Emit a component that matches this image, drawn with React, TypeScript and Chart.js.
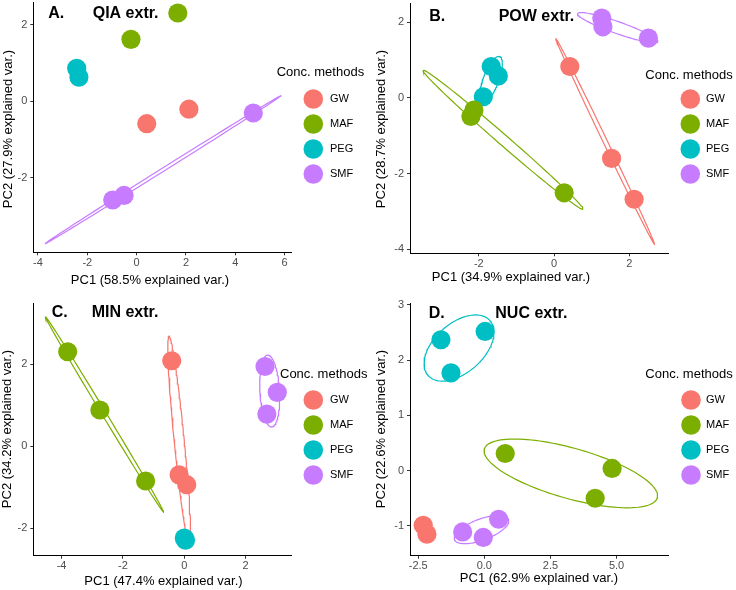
import React, { useEffect, useRef } from "react";
import { Chart, registerables } from "chart.js";

Chart.register(...registerables);

const FONT = "'Liberation Sans', Arial, Helvetica, sans-serif";
const W = 736;
const H = 590;

type Pt = [number, number];

// Legend categories and colours
const METHODS = ["GW", "MAF", "PEG", "SMF"];
const COLORS = ["#F8766D", "#7CAE00", "#00BFC4", "#C77CFF"];

// A. QIA extr. — [PC1, PC2]
const QIA_GW: Pt[] = [[0.41, -0.59], [2.12, -0.21]];
const QIA_MAF: Pt[] = [[1.67, 2.31], [-0.23, 1.62]];
const QIA_PEG: Pt[] = [[-2.43, 0.86], [-2.34, 0.63]];
const QIA_SMF: Pt[] = [[4.73, -0.31], [-0.97, -2.59], [-0.51, -2.47]];

// B. POW extr.
const POW_GW: Pt[] = [[0.42, 0.83], [1.53, -1.6], [2.13, -2.68]];
const POW_MAF: Pt[] = [[-2.13, -0.32], [-2.21, -0.49], [0.27, -2.51]];
const POW_PEG: Pt[] = [[-1.67, 0.83], [-1.48, 0.58], [-1.88, 0.03]];
const POW_SMF: Pt[] = [[1.27, 2.11], [1.3, 1.88], [2.51, 1.58]];

// C. MIN extr.
const MIN_GW: Pt[] = [[-0.41, 2.08], [-0.17, -0.7], [0.08, -0.94]];
const MIN_MAF: Pt[] = [[-3.8, 2.3], [-2.75, 0.88], [-1.26, -0.85]];
const MIN_PEG: Pt[] = [[0.0, -2.24], [0.04, -2.29]];
const MIN_SMF: Pt[] = [[2.63, 1.94], [3.03, 1.31], [2.69, 0.78]];

// D. NUC extr.
const NUC_GW: Pt[] = [[-2.31, -0.99], [-2.17, -1.15]];
const NUC_MAF: Pt[] = [[0.79, 0.31], [4.83, 0.04], [4.19, -0.5]];
const NUC_PEG: Pt[] = [[-1.64, 2.37], [0.03, 2.52], [-1.26, 1.77]];
const NUC_SMF: Pt[] = [[-0.82, -1.11], [-0.04, -1.21], [0.54, -0.88]];

// Axis ticks
const A_X_TICKS = [-4, -2, 0, 2, 4, 6];
const A_Y_TICKS = [-2, 0, 2];
const B_X_TICKS = [-2, 0, 2];
const B_Y_TICKS = [-4, -2, 0, 2];
const C_X_TICKS = [-4, -2, 0, 2];
const C_Y_TICKS = [-2, 0, 2];
const D_X_TICKS = [-2.5, 0, 2.5, 5];
const D_X_LABELS = ["-2.5", "0.0", "2.5", "5.0"];
const D_Y_TICKS = [-1, 0, 1, 2, 3];

const ELLIPSE_PROB = 0.68;

interface PanelCfg {
  letter: string;
  title: string;
  groups: Pt[][];
  xLabel: string;
  yLabel: string;
  xRange: [number, number];
  yRange: [number, number];
  xTicks: number[];
  xTickLabels?: string[];
  yTicks: number[];
  area: { l: number; t: number; r: number; b: number };
  letterPos: { x: number; y: number; tx: number };
  xLabelPos: { x: number; y: number };
  yLabelPos: { x: number; y: number };
  legendPos: { tx: number; ty: number; cx: number; y0: number; lx: number };
}

const PANELS: PanelCfg[] = [
  {
    letter: "A.",
    title: "QIA extr.",
    groups: [QIA_GW, QIA_MAF, QIA_PEG, QIA_SMF],
    xLabel: "PC1 (58.5% explained var.)",
    yLabel: "PC2 (27.9% explained var.)",
    xRange: [-4.19, 6.26],
    yRange: [-3.96, 2.58],
    xTicks: A_X_TICKS,
    yTicks: A_Y_TICKS,
    area: { l: 33.3, t: 2.7, r: 291, b: 252.3 },
    letterPos: { x: 48.3, y: 13.3, tx: 92.7 },
    xLabelPos: { x: 150, y: 280.5 },
    yLabelPos: { x: 8.5, y: 129 },
    legendPos: { tx: 276.7, ty: 72.5, cx: 313.3, y0: 99, lx: 330 },
  },
  {
    letter: "B.",
    title: "POW extr.",
    groups: [POW_GW, POW_MAF, POW_PEG, POW_SMF],
    xLabel: "PC1 (34.9% explained var.)",
    yLabel: "PC2 (28.7% explained var.)",
    xRange: [-3.83, 3.05],
    yRange: [-4.11, 2.51],
    xTicks: B_X_TICKS,
    yTicks: B_Y_TICKS,
    area: { l: 410, t: 3, r: 668.7, b: 253.3 },
    letterPos: { x: 429.3, y: 16.7, tx: 498.7 },
    xLabelPos: { x: 511, y: 277 },
    yLabelPos: { x: 381, y: 129 },
    legendPos: { tx: 645.3, ty: 75, cx: 690.3, y0: 99, lx: 706 },
  },
  {
    letter: "C.",
    title: "MIN extr.",
    groups: [MIN_GW, MIN_MAF, MIN_PEG, MIN_SMF],
    xLabel: "PC1 (47.4% explained var.)",
    yLabel: "PC2 (34.2% explained var.)",
    xRange: [-4.92, 3.5],
    yRange: [-2.67, 3.48],
    xTicks: C_X_TICKS,
    yTicks: C_Y_TICKS,
    area: { l: 33.3, t: 303.3, r: 291.7, b: 555.7 },
    letterPos: { x: 51.7, y: 312.7, tx: 91.7 },
    xLabelPos: { x: 163.5, y: 581.5 },
    yLabelPos: { x: 7.5, y: 429 },
    legendPos: { tx: 280, ty: 374.3, cx: 313.3, y0: 400, lx: 330 },
  },
  {
    letter: "D.",
    title: "NUC extr.",
    groups: [NUC_GW, NUC_MAF, NUC_PEG, NUC_SMF],
    xLabel: "PC1 (62.9% explained var.)",
    yLabel: "PC2 (22.6% explained var.)",
    xRange: [-2.81, 6.97],
    yRange: [-1.54, 3.03],
    xTicks: D_X_TICKS,
    xTickLabels: D_X_LABELS,
    yTicks: D_Y_TICKS,
    area: { l: 410, t: 303.3, r: 668.7, b: 555.7 },
    letterPos: { x: 428.7, y: 313.3, tx: 495.3 },
    xLabelPos: { x: 539, y: 578 },
    yLabelPos: { x: 381, y: 429 },
    legendPos: { tx: 645.3, ty: 374.3, cx: 691, y0: 400, lx: 706 },
  },
];

// Normal-theory data ellipse (as in ggbiplot): mu + ed * circle %*% chol(cov)
function ellipse(points: Pt[]): { x: number; y: number }[] {
  const n = points.length;
  if (n < 3) return [];
  const mx = points.reduce((s, p) => s + p[0], 0) / n;
  const my = points.reduce((s, p) => s + p[1], 0) / n;
  let sxx = 0, syy = 0, sxy = 0;
  for (const [x, y] of points) {
    sxx += (x - mx) * (x - mx);
    syy += (y - my) * (y - my);
    sxy += (x - mx) * (y - my);
  }
  sxx /= n - 1; syy /= n - 1; sxy /= n - 1;
  const r11 = Math.sqrt(sxx);
  const r12 = sxy / r11;
  const r22 = Math.sqrt(Math.max(syy - r12 * r12, 0));
  const ed = Math.sqrt(-2 * Math.log(1 - ELLIPSE_PROB));
  const out: { x: number; y: number }[] = [];
  const N = 120;
  for (let i = 0; i <= N; i++) {
    const t = -Math.PI + (2 * Math.PI * i) / N;
    const c = Math.cos(t), s = Math.sin(t);
    out.push({ x: mx + ed * c * r11, y: my + ed * (c * r12 + s * r22) });
  }
  return out;
}

const Y_AXIS_W = 30;
const X_AXIS_H = 20;

const decorPlugin = {
  id: "decor",
  afterDraw(chart: any) {
    const o: PanelCfg = chart.options.plugins.decor?.cfg;
    if (!o) return;
    const ctx: CanvasRenderingContext2D = chart.ctx;
    ctx.save();
    ctx.fillStyle = "#000";
    ctx.textBaseline = "middle";
    ctx.textAlign = "left";
    ctx.font = `bold 16px ${FONT}`;
    ctx.fillText(o.letter, o.letterPos.x, o.letterPos.y);
    ctx.fillText(o.title, o.letterPos.tx, o.letterPos.y);

    ctx.font = `13px ${FONT}`;
    ctx.textAlign = "center";
    ctx.fillText(o.xLabel, o.xLabelPos.x, o.xLabelPos.y);
    ctx.save();
    ctx.translate(o.yLabelPos.x, o.yLabelPos.y);
    ctx.rotate(-Math.PI / 2);
    ctx.fillText(o.yLabel, 0, 0);
    ctx.restore();

    const L = o.legendPos;
    ctx.textAlign = "left";
    ctx.font = `13px ${FONT}`;
    ctx.fillText("Conc. methods", L.tx, L.ty);
    ctx.font = `11px ${FONT}`;
    METHODS.forEach((m, i) => {
      const cy = L.y0 + i * 25;
      ctx.beginPath();
      ctx.fillStyle = COLORS[i];
      ctx.arc(L.cx, cy, 9.8, 0, Math.PI * 2);
      ctx.fill();
      ctx.fillStyle = "#000";
      ctx.fillText(m, L.lx, cy);
    });
    ctx.restore();
  },
};

function buildConfig(cfg: PanelCfg): any {
  const datasets: any[] = [];
  cfg.groups.forEach((pts, i) => {
    datasets.push({
      type: "scatter",
      label: METHODS[i],
      data: pts.map(([x, y]) => ({ x, y })),
      backgroundColor: COLORS[i],
      borderWidth: 0,
      pointRadius: 9.6,
      pointHoverRadius: 9.6,
      clip: false,
      order: 0,
    });
  });
  cfg.groups.forEach((pts, i) => {
    const e = ellipse(pts);
    if (!e.length) return;
    datasets.push({
      type: "scatter",
      label: METHODS[i] + " ellipse",
      data: e,
      showLine: true,
      borderColor: COLORS[i],
      borderWidth: 1.2,
      pointRadius: 0,
      pointHoverRadius: 0,
      fill: false,
      tension: 0,
      clip: false,
      order: 1,
    });
  });

  const tickFont = { family: FONT, size: 11 };
  return {
    type: "scatter",
    data: { datasets },
    options: {
      responsive: false,
      animation: false,
      events: [],
      layout: {
        autoPadding: false,
        padding: {
          left: cfg.area.l - Y_AXIS_W,
          top: cfg.area.t,
          right: W - cfg.area.r,
          bottom: H - cfg.area.b - X_AXIS_H,
        },
      },
      plugins: {
        legend: { display: false },
        tooltip: { enabled: false },
        decor: { cfg },
      },
      scales: {
        x: {
          type: "linear",
          position: "bottom",
          min: cfg.xRange[0],
          max: cfg.xRange[1],
          afterBuildTicks: (s: any) => {
            s.ticks = cfg.xTicks.map((v) => ({ value: v }));
          },
          afterFit: (s: any) => {
            s.height = X_AXIS_H;
            s.paddingLeft = 0;
            s.paddingRight = 0;
          },
          ticks: {
            font: tickFont,
            color: "#4D4D4D",
            padding: 1,
            maxRotation: 0,
            autoSkip: false,
            callback: (v: number) => {
              const idx = cfg.xTicks.indexOf(v);
              return cfg.xTickLabels && idx >= 0 ? cfg.xTickLabels[idx] : String(v);
            },
          },
          grid: { display: true, drawOnChartArea: false, drawTicks: true, tickLength: 3, color: "#333", lineWidth: 1 },
          border: { display: true, color: "#000", width: 1 },
        },
        y: {
          type: "linear",
          position: "left",
          min: cfg.yRange[0],
          max: cfg.yRange[1],
          afterBuildTicks: (s: any) => {
            s.ticks = cfg.yTicks.map((v) => ({ value: v }));
          },
          afterFit: (s: any) => {
            s.width = Y_AXIS_W;
            s.paddingTop = 0;
            s.paddingBottom = 0;
          },
          ticks: {
            font: tickFont,
            color: "#4D4D4D",
            padding: 3,
            autoSkip: false,
            callback: (v: number) => String(v),
          },
          grid: { display: true, drawOnChartArea: false, drawTicks: true, tickLength: 3, color: "#333", lineWidth: 1 },
          border: { display: true, color: "#000", width: 1 },
        },
      },
    },
    plugins: [decorPlugin],
  };
}

function Panel({ cfg }: { cfg: PanelCfg }) {
  const ref = useRef<HTMLCanvasElement>(null);
  useEffect(() => {
    if (!ref.current) return;
    const chart = new Chart(ref.current, buildConfig(cfg));
    return () => chart.destroy();
  }, [cfg]);
  return (
    <canvas
      ref={ref}
      width={W}
      height={H}
      style={{ position: "absolute", left: 0, top: 0, width: W, height: H }}
    />
  );
}

export default function App() {
  return (
    <div
      style={{
        position: "fixed",
        left: 0,
        top: 0,
        width: W,
        height: H,
        background: "#fff",
        overflow: "hidden",
      }}
    >
      {PANELS.map((p) => (
        <Panel key={p.letter} cfg={p} />
      ))}
    </div>
  );
}
